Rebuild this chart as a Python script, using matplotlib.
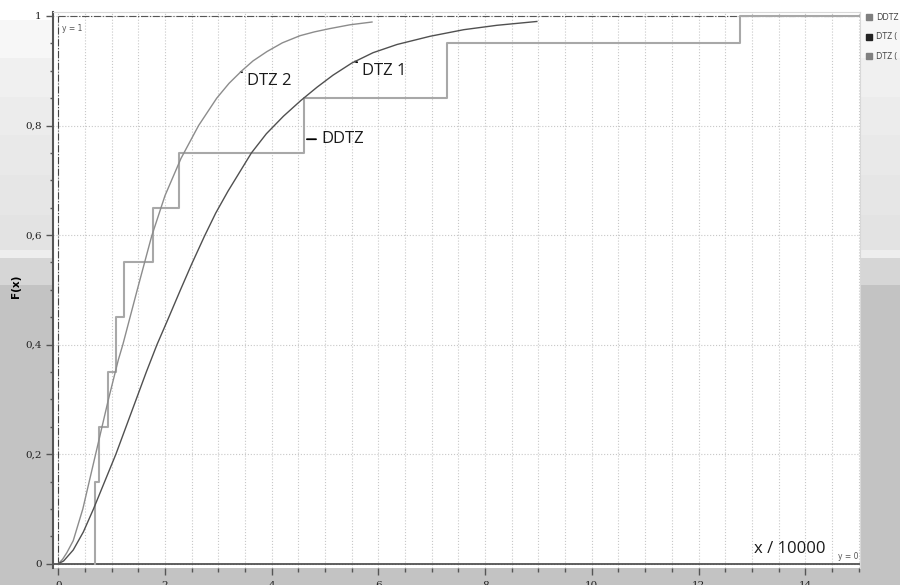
import numpy as np
import matplotlib
matplotlib.use('Agg')
import matplotlib.pyplot as plt
from matplotlib.ticker import MultipleLocator, FuncFormatter
from matplotlib.patches import Rectangle

# Daten (x / 10000)
ddtz_x = [0.69, 0.77, 0.93, 1.09, 1.24, 1.77, 2.27, 4.60, 7.28, 12.77]
ddtz_y = [0.15, 0.25, 0.35, 0.45, 0.55, 0.65, 0.75, 0.85, 0.95, 1.0]

dtz1_x = [0, 0.10, 0.28, 0.47, 0.66, 0.87, 1.08, 1.27, 1.46, 1.65, 1.85, 2.05, 2.29,
          2.50, 2.74, 2.95, 3.18, 3.40, 3.62, 3.90, 4.22, 4.55, 4.85, 5.15, 5.50,
          5.90, 6.35, 6.97, 7.60, 8.22, 8.97]
dtz1_y = [0, 0.005, 0.025, 0.058, 0.10, 0.15, 0.20, 0.25, 0.30, 0.35, 0.40, 0.445, 0.50,
          0.547, 0.598, 0.640, 0.680, 0.715, 0.750, 0.785, 0.817, 0.846, 0.870, 0.892, 0.914,
          0.933, 0.948, 0.963, 0.975, 0.983, 0.990]

dtz2_x = [0, 0.08, 0.16, 0.28, 0.46, 0.70, 0.94, 1.125, 1.21, 1.48, 1.75, 2.00, 2.30,
          2.63, 2.97, 3.20, 3.44, 3.65, 3.91, 4.20, 4.53, 4.80, 5.09, 5.47, 5.88]
dtz2_y = [0, 0.008, 0.02, 0.042, 0.10, 0.20, 0.30, 0.372, 0.40, 0.50, 0.598, 0.672, 0.74,
          0.80, 0.85, 0.877, 0.90, 0.918, 0.935, 0.951, 0.964, 0.971, 0.977, 0.984, 0.989]

x_max = 15
legend_names = ['DDTZ', 'DTZ (', 'DTZ (']
legend_cols = ['#808080', '#222222', '#808080']

W, H = 900, 585
fx = lambda px: px / W
fy = lambda py: 1 - py / H

fig = plt.figure(figsize=(9, 5.85), dpi=100)

# Hintergrund mit grauen Baendern
bands = [(0, 20, 255), (20, 58, 247), (58, 97, 240), (97, 135, 236), (135, 175, 233),
         (175, 215, 230), (215, 250, 227), (250, 258, 238), (258, 285, 214), (285, 585, 195)]
grad = np.zeros((H, 1))
for a, b, v in bands:
    grad[a:b] = v
bg = fig.add_axes([0, 0, 1, 1], zorder=0)
bg.imshow(grad, cmap='gray', vmin=0, vmax=255, aspect='auto', extent=[0, 1, 0, 1])
bg.axis('off')

ax = fig.add_axes([fx(53), fy(568), fx(860) - fx(53), fy(12) - fy(568)], zorder=1)
ax.set_facecolor('white')
ax.set_xlim(-0.099, 15.027)
ax.set_ylim(-0.00785, 1.0073)

# Gitter
ax.xaxis.set_major_locator(MultipleLocator(2))
ax.xaxis.set_minor_locator(MultipleLocator(0.5))
ax.yaxis.set_major_locator(MultipleLocator(0.2))
ax.yaxis.set_minor_locator(MultipleLocator(0.05))
ax.xaxis.grid(True, which='both', linestyle=':', color='#c8c8c8', linewidth=0.8)
ax.yaxis.grid(True, which='major', linestyle=':', color='#c8c8c8', linewidth=0.8)
ax.set_axisbelow(True)

# Hilfslinien y = 0, y = 1, x = 0
ax.axhline(0, color='#444444', linewidth=1.2, zorder=2)
ax.plot([0, x_max], [1, 1], linestyle='-.', color='#555555', linewidth=0.8, zorder=2)
ax.plot([0, 0], [0, 1], linestyle='-.', color='#444444', linewidth=0.8, zorder=2)

# Kurven
sx = [ddtz_x[0]] + ddtz_x + [x_max]
sy = [0] + ddtz_y + [ddtz_y[-1]]
ax.plot(sx, sy, drawstyle='steps-post', color='#a8a8a8', linewidth=1.5, zorder=3)
ax.plot(dtz2_x, dtz2_y, color='#8c8c8c', linewidth=1.0, zorder=4)
ax.plot(dtz1_x, dtz1_y, color='#505050', linewidth=1.0, zorder=4)

lab_font = dict(family=['Open Sans', 'DejaVu Sans'], fontsize=12, color='#1a1a1a')
arr = dict(arrowstyle='-', color='black', linewidth=1.3, shrinkA=1.5, shrinkB=0)
x2 = 3.42
ax.annotate('DTZ 2', xy=(x2, np.interp(x2, dtz2_x, dtz2_y)), xytext=(6, -9),
            textcoords='offset pixels', ha='left', va='center', arrowprops=arr, **lab_font)
x1 = 5.56
ax.annotate('DTZ 1', xy=(x1, np.interp(x1, dtz1_x, dtz1_y)), xytext=(7, -9),
            textcoords='offset pixels', ha='left', va='center', arrowprops=arr, **lab_font)
ax.annotate('DDTZ', xy=(4.66, 0.775), xytext=(14, 0),
            textcoords='offset pixels', ha='left', va='center', arrowprops=arr, **lab_font)

ax.text((826 - 53) / 807, (568 - 557) / 556, 'x / 10000', transform=ax.transAxes,
        ha='right', va='bottom', **lab_font)
ax.text(0.07, 0.985, 'y = 1', ha='left', va='top', fontsize=5.5, color='#555555')
ax.text(15.0, 0.005, 'y = 0', ha='right', va='bottom', fontsize=5.5, color='#555555')

# Achsen
for s in ['top', 'right']:
    ax.spines[s].set_color('#d8d8d8')
ax.spines['bottom'].set_visible(False)
ax.spines['left'].set_color('#555555')
ax.spines['left'].set_linewidth(1.5)

ax.tick_params(axis='y', which='major', length=5, width=1, color='#555555',
               labelsize=7.5, pad=3, labelcolor='#222222')
ax.tick_params(axis='y', which='minor', length=2.5, width=1, color='#555555')
ax.tick_params(axis='x', which='major', length=5, width=1, color='#555555',
               labelsize=7.5, pad=4, labelcolor='#222222')
ax.tick_params(axis='x', which='minor', length=3, width=1, color='#555555')
for lbl in ax.get_xticklabels() + ax.get_yticklabels():
    lbl.set_family('DejaVu Serif')


def yfmt(v, pos):
    if abs(v) < 1e-9:
        return '0'
    if abs(v - 1) < 1e-9:
        return '1'
    return ('%.1f' % v).replace('.', ',')


ax.yaxis.set_major_formatter(FuncFormatter(yfmt))
ax.xaxis.set_major_formatter(FuncFormatter(lambda v, p: '%d' % v))
ax.set_ylabel('F(x)', fontsize=7.5, fontweight='bold')
ax.yaxis.set_label_coords((21 - 53) / 807, (568 - 286) / 556)

# Legende rechts (abgeschnitten)
for i, (name, col) in enumerate(zip(legend_names, legend_cols)):
    py = 17 + i * 19.5
    fig.patches.append(Rectangle((fx(866), fy(py + 3)), fx(6), 6 / H, color=col,
                                 transform=fig.transFigure, figure=fig, zorder=5))
    fig.text(fx(876), fy(py), name, fontsize=6.3, color='#444444', va='center', ha='left',
             family=['Open Sans', 'DejaVu Sans'])

fig.savefig('out.png', dpi=100)
